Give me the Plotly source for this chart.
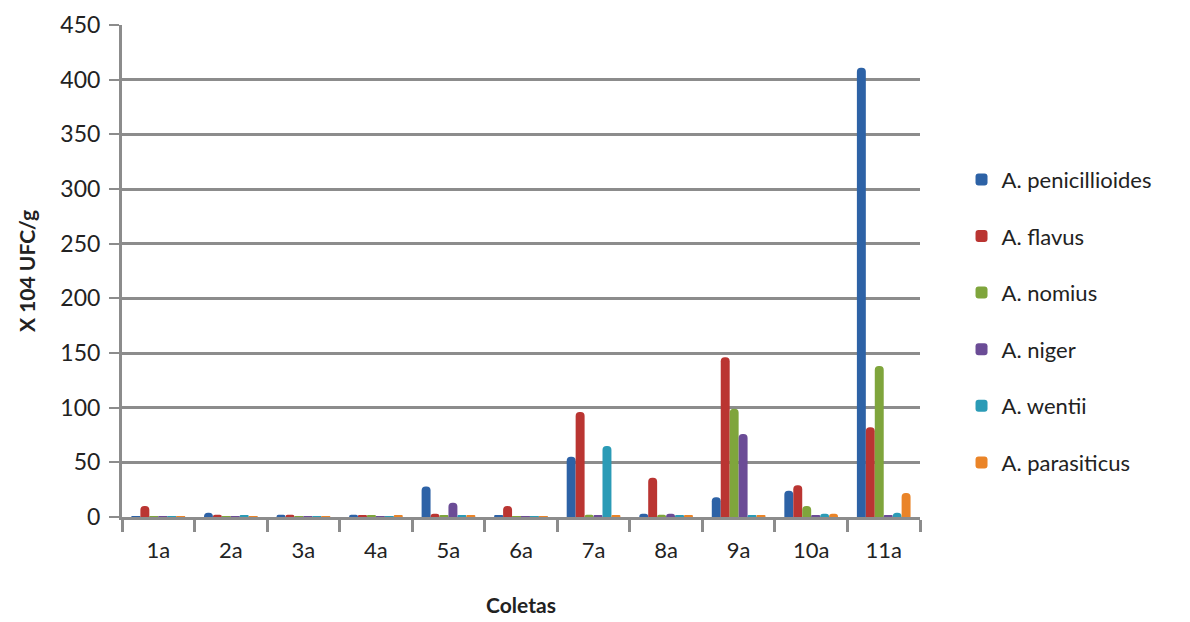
import plotly.graph_objects as go

categories = ["1a", "2a", "3a", "4a", "5a", "6a", "7a", "8a", "9a", "10a", "11a"]

penicillioides = [0.5, 4, 2, 2, 28, 1, 55, 3, 18, 24, 411]
flavus = [10, 2, 2, 1.5, 3, 10, 96, 36, 146, 29, 82]
nomius = [0.5, 0.5, 0.5, 1.5, 1, 0.5, 2, 2, 99, 10, 138]
niger = [0.5, 0.5, 0.5, 0.5, 13, 0.5, 1, 3, 76, 1, 1]
wentii = [0.5, 1.5, 0.5, 0.5, 1, 0.5, 65, 1, 1, 3, 4]
parasiticus = [0.5, 0.5, 0.5, 1, 1, 0.5, 1, 1, 1, 3, 22]

series_names = ["A. penicillioides", "A. flavus", "A. nomius", "A. niger", "A. wentii", "A. parasiticus"]
series_values = [penicillioides, flavus, nomius, niger, wentii, parasiticus]
colors = ["#2D62A6", "#BA3532", "#7FA53C", "#6B4C96", "#2B9BB6", "#EA8428"]

y_ticks = [0, 50, 100, 150, 200, 250, 300, 350, 400, 450]

FONT = "Lato, 'Open Sans', sans-serif"

fig = go.Figure()
for i, (name, vals, col) in enumerate(zip(series_names, series_values, colors)):
    fig.add_trace(go.Bar(
        x=categories, y=vals, name=name,
        marker=dict(color=col, line=dict(width=0), cornerradius=4),
        legendgroup=name,
    ))

fig.update_layout(
    width=1190, height=622,
    paper_bgcolor="white", plot_bgcolor="white",
    margin=dict(l=122, r=270, t=25, b=105),
    barmode="group", bargap=0.26, bargroupgap=0.0,
    font=dict(family=FONT, size=22, color="#222"),
    showlegend=True,
    legend=dict(
        xref="container", yref="container",
        x=0.808, y=0.745, xanchor="left", yanchor="top",
        font=dict(family=FONT, size=22, color="#222"),
        tracegroupgap=25, itemwidth=30, maxheight=600,
        bgcolor="rgba(0,0,0,0)",
    ),
    xaxis=dict(
        automargin=False,
        showline=True, linecolor="#8c8c8c", linewidth=3,
        ticks="outside", tickcolor="#8c8c8c", ticklen=12, tickwidth=3,
        tickson="boundaries", ticklabelstandoff=12,
        tickfont=dict(family=FONT, size=22, color="#222"),
        title=dict(text="<b>Coletas</b>", font=dict(family=FONT, size=21, color="#222"), standoff=36),
        showgrid=False,
    ),
    yaxis=dict(
        automargin=False,
        range=[0, 450], tickvals=y_ticks,
        showline=True, linecolor="#8c8c8c", linewidth=3,
        ticks="outside", tickcolor="#8c8c8c", ticklen=10, tickwidth=2,
        ticklabelstandoff=4,
        showgrid=True, gridcolor="#8c8c8c", gridwidth=3,
        zeroline=False,
        tickfont=dict(family=FONT, size=23, color="#222"),
        title=dict(text="<b>X 104 UFC/g</b>", font=dict(family=FONT, size=21, color="#222"), standoff=20),
    ),
)

fig.write_html("out.html")
